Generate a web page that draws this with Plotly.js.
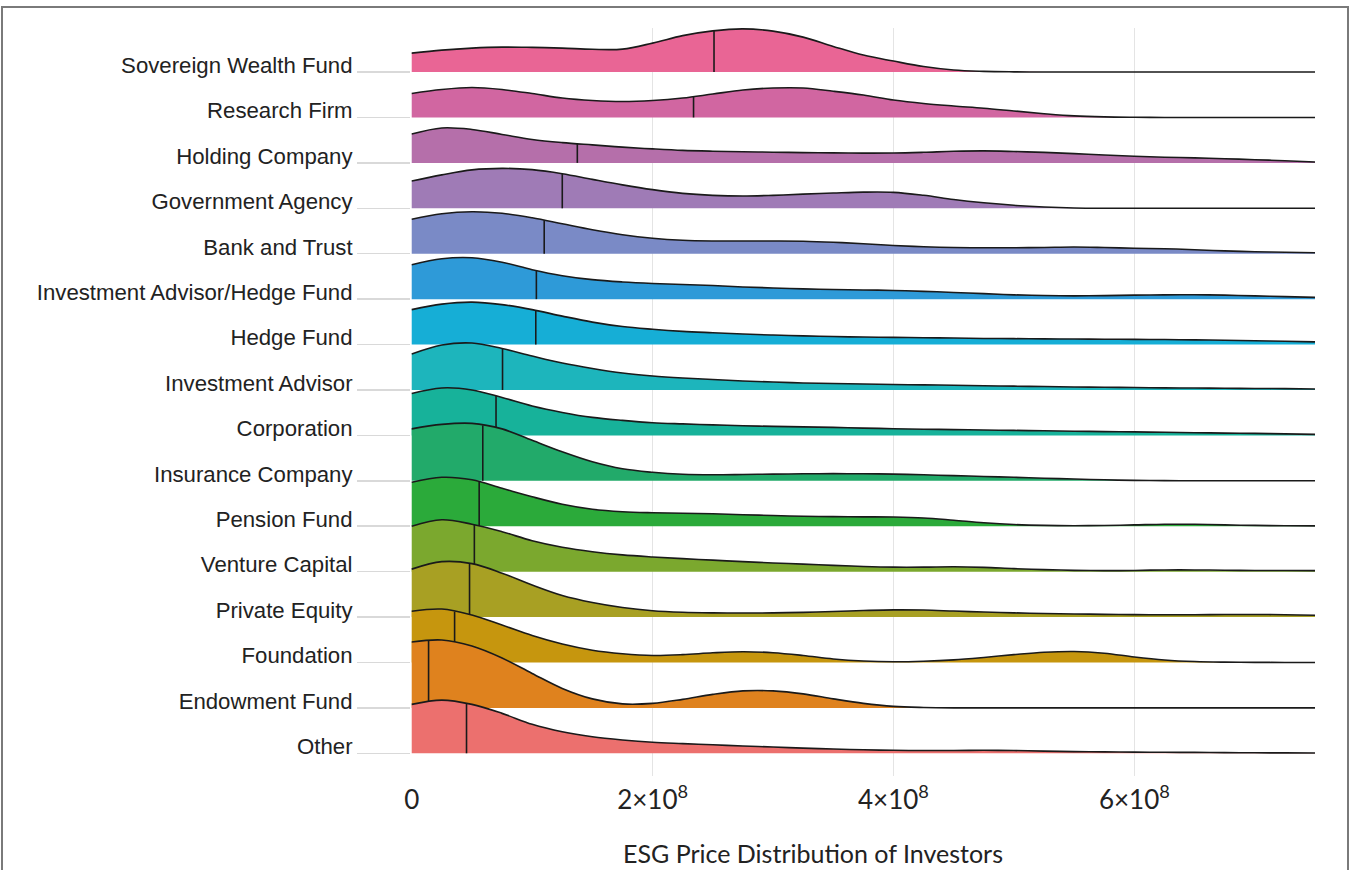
<!DOCTYPE html>
<html><head><meta charset="utf-8">
<script src="https://cdn.plot.ly/plotly-3.0.1.min.js"></script>
<style>
html,body{margin:0;padding:0;background:#fff;}
#frame{position:absolute;left:1px;top:6px;width:1348px;height:900px;border:2px solid #7a7a7a;box-sizing:border-box;}
#chart{position:absolute;left:0;top:0;width:1351px;height:870px;}
</style></head><body>
<div id="frame"></div>
<div id="chart"></div>
<script>
// categories, top to bottom
const categories = ["Sovereign Wealth Fund","Research Firm","Holding Company","Government Agency","Bank and Trust","Investment Advisor/Hedge Fund","Hedge Fund","Investment Advisor","Corporation","Insurance Company","Pension Fund","Venture Capital","Private Equity","Foundation","Endowment Fund","Other"];

// evaluation grid of the densities (price)
const xGrid = [0,2.5e7,5e7,7.5e7,1e8,1.25e8,1.5e8,1.75e8,2e8,2.25e8,2.5e8,2.75e8,3e8,3.25e8,3.5e8,3.75e8,4e8,4.25e8,4.5e8,4.75e8,5e8,5.25e8,5.5e8,5.75e8,6e8,6.25e8,6.5e8,6.75e8,7e8,7.25e8,7.5e8];

// density values (relative units)
const densSovereign  = [19,22,24,25,24.7,24,22.8,23,29,36.5,41.3,43.3,41,35,25.7,17,11,5.5,2,0.7,0.2,0,0,0,0,0,0,0,0,0,0];
const densResearch   = [24,28,30,28,24,19.5,17,16,17,19.5,23.5,27.5,29.5,29.5,26.3,22.5,17.5,14,11.5,9.3,6.5,3.8,1.6,0.6,0.2,0,0,0,0,0,0];
const densHolding    = [29,35,33.5,28.5,23.5,20.3,18,15.8,14,12.5,11.7,11.2,10.7,10.3,10,9.8,9.9,10.6,11.6,12,11.4,10.5,9.3,7.9,6.6,5.7,5,4.2,3.2,2.2,0.9];
const densGovernment = [27.3,33.5,38.5,40,38.7,34.7,29,23.5,18.7,15,13,12.3,13,14.2,15.3,16.2,16,13,8.8,5.5,3,1.3,0.3,0,0,0,0,0,0,0,0];
const densBank       = [34.5,40,42,40.5,36,30,24,19,15.5,13.5,12.8,12.7,12.7,12.5,11.5,10,8.3,7,6.2,6,6,6.3,6.7,6.2,5.5,5,4,2.8,2,1.4,1];
const densIAHF       = [34.5,40.5,41.5,37,29.5,23.5,19.5,17.2,15.7,14.7,13.7,12.2,11.2,10.3,9.7,9.2,8.7,7.8,6.7,5.5,4.3,3.6,3.3,3.5,4,4.3,4.4,4,3.3,2.5,1.8];
const densHedge      = [35,40.5,42.5,40,35,28.5,22.5,18,15.3,13.2,11.8,10.5,9.5,8.7,8,7.5,7.2,6.8,6.5,6.1,5.9,5.7,5.5,5.3,5.2,5,4.7,4.3,3.8,3.3,2.7];
const densIA         = [36,45,47,41.5,34,27,21.5,17,14,12,10.5,9,8,7,6.5,6,5.5,5.1,4.7,4.2,3.8,3.4,3,2.7,2.4,2.1,1.9,1.7,1.5,1.3,1];
const densCorp       = [42,47.5,45.5,38,29.5,23,18,15,12.7,11.5,10.5,9.7,9,8.5,8,7.3,6.7,6.2,5.8,5.4,5,4.6,4.2,3.8,3.5,3.1,2.7,2.3,2,1.5,1];
const densInsurance  = [52,56.5,57.5,52,40.5,29,19,12,8.5,6.5,6,6.3,6.7,7,7.2,7,6.7,6,5.2,4.3,3.5,2.6,1.8,1,0.4,0.2,0,0,0,0,0];
const densPension    = [44,49,46.5,38,29.5,22,17,14.5,13.5,13,12.5,11.5,10.7,10,9.6,9.4,9.2,8.3,6,3.5,1.7,0.8,0.5,0.7,1.3,2,1.9,1.3,0.8,0.5,0.3];
const densVenture    = [45.5,52,47.5,40,31,24.5,20,16.8,14.7,13,11.5,10,8.7,7.5,6.3,5.2,4.5,4.5,4.9,4.3,3,2,1.3,1,1.2,1.7,1.7,1.4,1.2,1.1,1];
const densPE         = [48,55.5,53.5,44,32,21.5,14.5,9.5,6.3,4.8,4.2,4,4.2,4.7,5.5,6.5,7.2,7,6,5,4.2,3.6,3.1,2.7,2.4,2.3,2.3,2.5,2.6,2.3,1.8];
const densFoundation = [51.3,53.5,47.5,37.5,27,18.5,12.3,8.8,7,7.8,9.7,10.8,9.8,7,3.5,1.4,0.7,1.2,2.6,5,7.8,10.2,11,9.3,5.5,2.5,0.9,0.3,0.1,0,0];
const densEndowment  = [66,68,62,50,34.5,19.5,9,4,4.5,8.5,13.5,17,17,14,9,4.5,1.5,0.4,0,0,0,0,0,0,0,0,0,0,0,0,0];
const densOther      = [49,53.3,49,40,29,21.5,16.5,13.3,11,9.7,8.5,7.3,6.3,5.2,4.3,3.5,3,2.8,2.8,3,2.8,2.2,1.7,1.4,1.2,1,0.9,0.7,0.5,0.4,0.3];

// medians of each group
const medians = [2.51e8,2.34e8,1.375e8,1.25e8,1.10e8,1.035e8,1.03e8,0.754e8,0.70e8,0.59e8,0.56e8,0.52e8,0.48e8,0.356e8,0.14e8,0.455e8];

const colors = ["#E96595","#D166A1","#B56FAA","#9F7BB6","#7A8AC6","#2E9AD8","#16AED6","#1DB5BC","#17B29A","#22AA6A","#2BAA3A","#7BA82E","#A8A023","#C6960E","#DF821E","#EC706E"];

const densities = [densSovereign,densResearch,densHolding,densGovernment,densBank,densIAHF,densHedge,densIA,densCorp,densInsurance,densPension,densVenture,densPE,densFoundation,densEndowment,densOther];

const scale = 1/45.5; // density unit -> row height
const n = categories.length;

function interp(xs, ys, x){
  for(let k=0;k<xs.length-1;k++){
    if(x>=xs[k] && x<=xs[k+1]){
      const t=(x-xs[k])/(xs[k+1]-xs[k]);
      return ys[k]+t*(ys[k+1]-ys[k]);
    }
  }
  return 0;
}

const traces = [];
categories.forEach((cat,i)=>{
  const base = n-1-i;
  const d = densities[i];
  traces.push({x:xGrid, y:xGrid.map(()=>base), mode:'lines', line:{width:0,color:'rgba(0,0,0,0)'}, hoverinfo:'skip', showlegend:false});
  traces.push({x:xGrid, y:d.map(v=>base+v*scale), mode:'lines', fill:'tonexty', fillcolor:colors[i],
    line:{color:'#1a1a1a', width:1.6, shape:'spline', smoothing:1}, hoverinfo:'skip', showlegend:false, name:cat});
  const m = medians[i];
  traces.push({x:[m,m], y:[base, base+interp(xGrid,d,m)*scale], mode:'lines', line:{color:'#1a1a1a', width:1.6}, hoverinfo:'skip', showlegend:false});
});

const layout = {
  width:1351, height:870,
  paper_bgcolor:'rgba(0,0,0,0)', plot_bgcolor:'rgba(0,0,0,0)',
  margin:{l:411, r:36, t:28, b:94},
  showlegend:false,
  xaxis:{range:[-0.006e8,7.5e8], tickvals:[0,2e8,4e8,6e8], exponentformat:'power', showgrid:true, gridcolor:'#e4e4e4', gridwidth:1.5,
    zeroline:false, showline:false, ticks:'', ticklabelstandoff:6, tickfont:{family:'Lato', size:26, color:'#222'}},
  yaxis:{range:[-0.5,15.97], tickvals:categories.map((c,i)=>n-1-i), ticktext:categories, ticks:'outside', ticklen:53,
    tickcolor:'#d9d9d9', tickwidth:1.5, showgrid:false, zeroline:false, showline:false, ticklabelshift:-7,
    tickfont:{family:'Liberation Sans', size:22.2, color:'#222'}},
  annotations:[{text:'ESG Price Distribution of Investors', xref:'paper', yref:'paper', x:0.4447, y:-0.103, xanchor:'center', yanchor:'middle',
    showarrow:false, font:{family:'Lato', size:25, color:'#222'}}]
};

Plotly.newPlot('chart', traces, layout, {staticPlot:true});
</script>
</body></html>
